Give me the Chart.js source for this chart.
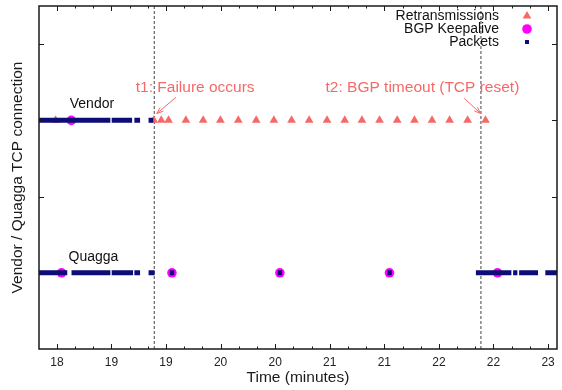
<!DOCTYPE html>
<html><head><meta charset="utf-8">
<script src="https://cdn.jsdelivr.net/npm/chart.js@4/dist/chart.umd.min.js"></script>
<style>html,body{margin:0;padding:0;background:#fff;} #wrap{width:562px;height:390px;position:relative;}</style>
</head><body><div id="wrap"><canvas id="c"></canvas></div>
<script>
// ---- data ----
const connections = ['Vendor', 'Quagga'];
const connectionY = [3, 1];
const connectionLabelX = [18.321, 18.335];
const connectionLabelY = [3.214, 1.207];

const xTickValues = [18, 18.5, 19, 19.5, 20, 20.5, 21, 21.5, 22, 22.5];
const xTickLabels = ['18', '19', '19', '20', '20', '21', '21', '22', '22', '23'];
const yTickValues = [1, 2, 3, 4];
const xMin = 17.836, xMax = 22.582;
const yMin = 0, yMax = 4.5;

const vendorPacketRuns = [[17.836, 18.490], [18.502, 18.689], [18.710, 18.762], [18.840, 18.883]];
const quaggaPacketRuns = [[17.836, 18.095], [18.134, 18.490], [18.502, 18.698], [18.710, 18.762],
  [18.840, 18.895], [19.034, 19.075], [20.023, 20.064], [21.027, 21.069],
  [21.839, 22.164], [22.180, 22.219], [22.235, 22.408], [22.475, 22.582]];
const vendorKeepalives = [18.132];
const quaggaKeepalives = [18.043, 19.054, 20.043, 21.047, 22.037];
const vendorRetransmissions = [17.988, 18.888, 18.956, 19.023, 19.182, 19.340, 19.498, 19.662,
  19.826, 19.988, 20.150, 20.311, 20.475, 20.637, 20.795, 20.956, 21.118, 21.276, 21.437,
  21.598, 21.763, 21.927];

const eventTimes = [18.892, 21.885];
const eventLabels = ['t1: Failure occurs', 't2: BGP timeout (TCP reset)'];
const eventLabelX = [19.267, 21.349];
const eventLabelY = [3.424, 3.424];
const arrowFrom = [[19.090, 3.302], [21.732, 3.289]];
const arrowTo = [[18.915, 3.089], [21.883, 3.089]];

const legendLabels = ['Retransmissions', 'BGP Keepalive', 'Packets'];

// ---- styles ----
const NAVY = '#0d0d78';
const MAGENTA = '#ff00ff';
const SALMON = '#f76868';
const FONT = '"Liberation Sans", Arial, Helvetica, sans-serif';

function runsToPoints(runs, y) {
  const pts = [];
  runs.forEach(r => { pts.push({x: r[0], y: y}); pts.push({x: r[1], y: y}); pts.push({x: r[1], y: null}); });
  return pts;
}

const datasets = [
  {label: 'Packets Vendor', data: runsToPoints(vendorPacketRuns, connectionY[0]), showLine: true,
   borderColor: NAVY, borderWidth: 5, borderCapStyle: 'butt', pointRadius: 0, spanGaps: false, clip: 0, order: 1},
  {label: 'Packets Quagga', data: runsToPoints(quaggaPacketRuns, connectionY[1]), showLine: true,
   borderColor: NAVY, borderWidth: 5, borderCapStyle: 'butt', pointRadius: 0, spanGaps: false, clip: 0, order: 1},
  {label: 'BGP Keepalive', data: vendorKeepalives.map(x => ({x, y: connectionY[0]})).concat(quaggaKeepalives.map(x => ({x, y: connectionY[1]}))),
   pointStyle: 'circle', pointRadius: 4.8, backgroundColor: MAGENTA, borderWidth: 0, order: 2},
  {label: 'Retransmissions', data: vendorRetransmissions.map(x => ({x, y: connectionY[0]})),
   pointStyle: 'triangle', pointRadius: 5, backgroundColor: SALMON, borderWidth: 0, order: 3},
];
eventTimes.forEach((t, i) => datasets.push({
  label: 'event' + i, data: [{x: t, y: yMin}, {x: t, y: yMax}], showLine: true,
  borderColor: '#444', borderWidth: 1, borderDash: [3, 2], pointRadius: 0, order: 4
}));

const decor = {
  id: 'decor',
  afterDraw(chart) {
    const ctx = chart.ctx, a = chart.chartArea;
    const xs = chart.scales.x, ys = chart.scales.y;
    ctx.save();
    // border
    ctx.strokeStyle = '#1a1a1a'; ctx.lineWidth = 1.5;
    ctx.strokeRect(a.left, a.top, a.right - a.left, a.bottom - a.top);
    // ticks (inward, mirrored)
    ctx.lineWidth = 1;
    const kStart = Math.ceil(xMin * 6), kEnd = Math.floor(xMax * 6);
    for (let k = kStart; k <= kEnd; k++) {
      const v = k / 6;
      const major = xTickValues.some(t => Math.abs(t - v) < 1e-6);
      const len = major ? 5 : 2.5;
      const px = Math.round(xs.getPixelForValue(v)) + 0.5;
      ctx.beginPath();
      ctx.moveTo(px, a.bottom); ctx.lineTo(px, a.bottom - len);
      ctx.moveTo(px, a.top); ctx.lineTo(px, a.top + len);
      ctx.stroke();
    }
    yTickValues.forEach(v => {
      const py = Math.round(ys.getPixelForValue(v)) + 0.5;
      ctx.beginPath();
      ctx.moveTo(a.left, py); ctx.lineTo(a.left + 5, py);
      ctx.moveTo(a.right, py); ctx.lineTo(a.right - 5, py);
      ctx.stroke();
    });
    // connection labels
    ctx.fillStyle = '#111'; ctx.font = '14px ' + FONT; ctx.textAlign = 'center'; ctx.textBaseline = 'middle';
    connections.forEach((c, i) => ctx.fillText(c, xs.getPixelForValue(connectionLabelX[i]), ys.getPixelForValue(connectionLabelY[i])));
    // event annotations
    ctx.fillStyle = SALMON; ctx.strokeStyle = SALMON; ctx.font = '15.5px ' + FONT;
    eventLabels.forEach((t, i) => {
      ctx.fillText(t, xs.getPixelForValue(eventLabelX[i]), ys.getPixelForValue(eventLabelY[i]));
      const x1 = xs.getPixelForValue(arrowFrom[i][0]), y1 = ys.getPixelForValue(arrowFrom[i][1]);
      const x2 = xs.getPixelForValue(arrowTo[i][0]), y2 = ys.getPixelForValue(arrowTo[i][1]);
      ctx.lineWidth = 1;
      ctx.beginPath(); ctx.moveTo(x1, y1); ctx.lineTo(x2, y2); ctx.stroke();
      const ang = Math.atan2(y2 - y1, x2 - x1), hl = 7, ha = 0.35;
      ctx.beginPath();
      ctx.moveTo(x2 - hl * Math.cos(ang - ha), y2 - hl * Math.sin(ang - ha));
      ctx.lineTo(x2, y2);
      ctx.lineTo(x2 - hl * Math.cos(ang + ha), y2 - hl * Math.sin(ang + ha));
      ctx.stroke();
    });
    // legend
    const lx = 527, textX = 499, rows = [16, 29, 42];
    ctx.font = '14px ' + FONT; ctx.fillStyle = '#111'; ctx.textAlign = 'right'; ctx.textBaseline = 'middle';
    legendLabels.forEach((l, i) => ctx.fillText(l, textX, rows[i]));
    // triangle
    const r = 5;
    ctx.fillStyle = SALMON; ctx.beginPath();
    ctx.moveTo(lx, rows[0] - r); ctx.lineTo(lx + 0.866 * r, rows[0] + 0.5 * r); ctx.lineTo(lx - 0.866 * r, rows[0] + 0.5 * r); ctx.closePath(); ctx.fill();
    ctx.fillStyle = MAGENTA; ctx.beginPath(); ctx.arc(lx, rows[1], 4.8, 0, Math.PI * 2); ctx.fill();
    ctx.fillStyle = NAVY; ctx.fillRect(lx - 2, rows[2] - 2, 4, 4);
    ctx.restore();
  }
};

new Chart(document.getElementById('c'), {
  type: 'scatter',
  data: {datasets},
  options: {
    responsive: true, maintainAspectRatio: false, animation: false, events: [],
    layout: {padding: {top: 6, right: 3, left: 0, bottom: 0}},
    plugins: {legend: {display: false}, tooltip: {enabled: false}},
    scales: {
      x: {
        type: 'linear', position: 'bottom', min: xMin, max: xMax,
        grid: {display: false, drawTicks: false, tickLength: 0}, border: {display: false},
        afterBuildTicks: s => { s.ticks = xTickValues.map(v => ({value: v})); },
        afterFit: s => { s.height = 41; },
        ticks: {autoSkip: false, maxRotation: 0, padding: 6, color: '#222', font: {family: FONT, size: 12},
                callback: (v, i) => xTickLabels[i]},
        title: {display: true, text: 'Time (minutes)', color: '#1a1a1a', font: {family: FONT, size: 15.5}, padding: {top: 2.7, bottom: 2.7}}
      },
      y: {
        type: 'linear', position: 'left', min: yMin, max: yMax,
        grid: {display: false, drawTicks: false, tickLength: 0}, border: {display: false},
        ticks: {display: false},
        afterFit: s => { s.width = 39; },
        title: {display: true, text: 'Vendor / Quagga TCP connection', color: '#1a1a1a', font: {family: FONT, size: 15.5}, padding: {top: 8.7, bottom: 0}}
      }
    }
  },
  plugins: [decor]
});
</script>
</body></html>
